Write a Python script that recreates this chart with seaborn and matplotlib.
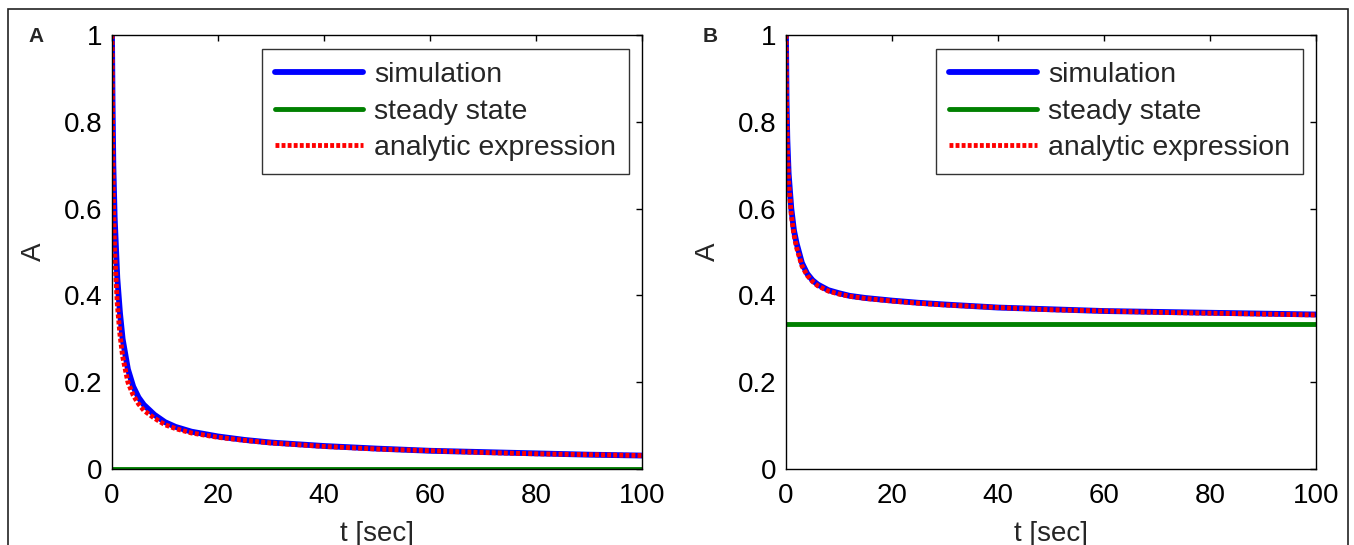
import numpy as np
import pandas as pd
import seaborn as sns
import matplotlib.pyplot as plt
from matplotlib.patches import Rectangle

# time points (sec)
t = [0, 0.1, 0.25, 0.5, 1, 1.5, 2, 3, 4, 5, 6, 8, 10, 12, 15,
     20, 25, 30, 40, 50, 60, 70, 80, 90, 100]

# panel A
sim_a = [1.0, 0.85, 0.70, 0.58, 0.44, 0.36, 0.30, 0.23, 0.19, 0.165, 0.148, 0.125,
         0.108, 0.097, 0.086, 0.075, 0.067, 0.061, 0.053, 0.047, 0.042, 0.039,
         0.036, 0.033, 0.031]
ana_a = [1.0, 0.78, 0.62, 0.50, 0.38, 0.31, 0.26, 0.20, 0.17, 0.15, 0.135, 0.117,
         0.102, 0.093, 0.083, 0.073, 0.066, 0.060, 0.052, 0.046, 0.042, 0.038,
         0.035, 0.033, 0.031]
ss_a = 0.0

# panel B
sim_b = [1.0, 0.85, 0.76, 0.68, 0.60, 0.55, 0.52, 0.475, 0.45, 0.435, 0.425, 0.412,
         0.405, 0.399, 0.394, 0.388, 0.383, 0.379, 0.372, 0.368, 0.364, 0.362,
         0.360, 0.358, 0.356]
ana_b = [1.0, 0.83, 0.74, 0.66, 0.585, 0.54, 0.51, 0.468, 0.446, 0.432, 0.422, 0.41,
         0.403, 0.398, 0.393, 0.387, 0.382, 0.378, 0.372, 0.367, 0.364, 0.361,
         0.359, 0.357, 0.355]
ss_b = 1 / 3

panels = [("A", sim_a, ana_a, ss_a), ("B", sim_b, ana_b, ss_b)]
labels = ["simulation", "steady state", "analytic expression"]
xticks = [0, 20, 40, 60, 80, 100]
yticks = [0, 0.2, 0.4, 0.6, 0.8, 1]

sns.set_style("white")
plt.rcParams['font.family'] = ['Liberation Sans', 'DejaVu Sans']

W, H = 1354, 545
fig = plt.figure(figsize=(W / 100, H / 100), dpi=100)

# outer frame of the figure
fig.patches.append(Rectangle((8 / W, -0.1), 1340 / W, 1.1 - 9 / H, transform=fig.transFigure,
                             fill=False, edgecolor='#222222', lw=1.2))

lefts = [112, 786]
for (tag, sim, ana, ss), left in zip(panels, lefts):
    ax = fig.add_axes([left / W, 1 - 469 / H, 530 / W, 434 / H])
    df = pd.DataFrame({"t": t, "sim": sim, "ana": ana, "ss": [ss] * len(t)})
    sns.lineplot(data=df, x="t", y="sim", ax=ax, color=(0, 0, 1), lw=4.2, label=labels[0])
    sns.lineplot(data=df, x="t", y="ss", ax=ax, color=(0, 0.5, 0), lw=3.5, label=labels[1])
    sns.lineplot(data=df, x="t", y="ana", ax=ax, color=(1, 0, 0), lw=3.5,
                 linestyle=(0, (0.8, 0.45)), label=labels[2])
    ax.set_xlim(0, 100)
    ax.set_ylim(0, 1)
    ax.set_xticks(xticks)
    ax.set_yticks(yticks)
    ax.set_yticklabels(["0", "0.2", "0.4", "0.6", "0.8", "1"])
    ax.tick_params(direction='in', length=4, width=1, top=True, right=True,
                   labelsize=20, colors='black')
    ax.tick_params(axis='x', pad=10)
    ax.tick_params(axis='y', pad=7)
    for s in ax.spines.values():
        s.set_color('black')
        s.set_linewidth(1)
    ax.set_xlabel("t [sec]", fontsize=20, labelpad=9)
    ax.set_ylabel("A", fontsize=20, labelpad=12)
    leg = ax.legend(loc='upper right', bbox_to_anchor=(1 - 13 / 530, 1 - 14 / 434),
                    fontsize=20.5, frameon=True, fancybox=False, handlelength=3.1,
                    handletextpad=0.4, labelspacing=0.38, borderpad=0.45,
                    borderaxespad=0)
    leg.get_frame().set_edgecolor('black')
    leg.get_frame().set_linewidth(1)
    fig.text((left - 76) / W, 1 - 37 / H, tag, fontsize=15, fontweight='bold',
             ha='center', va='center')

fig.savefig("out.png", dpi=100)
